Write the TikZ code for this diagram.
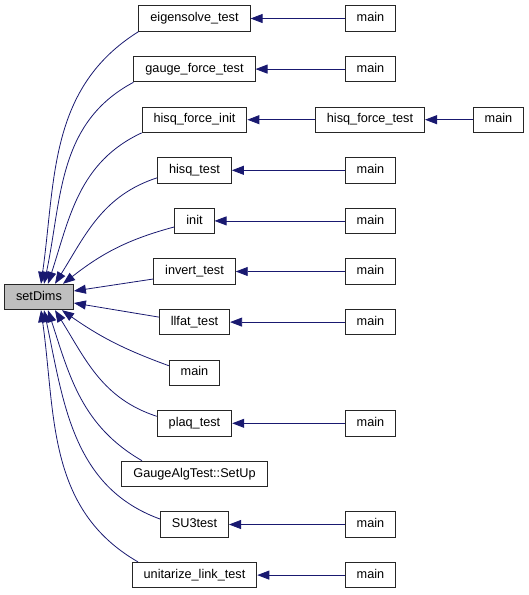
\documentclass[tikz,border=0pt]{standalone}
\usepackage{fontspec}
\setmainfont{Liberation Sans}
\usetikzlibrary{arrows.meta}
\definecolor{edgeblue}{HTML}{191970}
\definecolor{nodegray}{HTML}{BFBFBF}
\tikzset{
    fn/.style = {draw=black!85, line width=0.9pt, inner xsep=11.5pt, inner ysep=0pt,
                 minimum height=25.5pt, text height=9.5pt, text depth=3pt,
                 font=\fontsize{12.7}{15}\selectfont},
    call/.style = {draw=edgeblue, line width=0.8pt},
}
\begin{document}
\begin{tikzpicture}[x=1pt, y=1pt, >={Triangle[length=12pt,width=9pt]}]
        \useasboundingbox (0,0) rectangle (529,-595);
        % the function and its callers
        \node[fn, fill=nodegray] (setDims) at (39,-297) {setDims};
        \node[fn] (eigen)    at (194.5,-18.5)  {eigensolve\_test};
        \node[fn] (gauge)    at (194.5,-69.1)  {gauge\_force\_test};
        \node[fn] (hisqinit) at (194.5,-119.7) {hisq\_force\_init};
        \node[fn] (hisqtest) at (194.5,-170.3) {hisq\_test};
        \node[fn] (init)     at (194.5,-220.9) {init};
        \node[fn] (invert)   at (194.5,-271.5) {invert\_test};
        \node[fn] (llfat)    at (194.5,-322.1) {llfat\_test};
        \node[fn] (mainA)    at (194.5,-372.7) {main};
        \node[fn] (plaq)     at (194.5,-423.3) {plaq\_test};
        \node[fn] (setup)    at (194.5,-473.9) {GaugeAlgTest::SetUp};
        \node[fn] (suthree)  at (194.5,-524.5) {SU3test};
        \node[fn] (unitar)   at (194.5,-575.1) {unitarize\_link\_test};
        % callers of the callers
        \node[fn] (mainB)    at (370.5,-18.5)  {main};
        \node[fn] (mainC)    at (370.5,-69.1)  {main};
        \node[fn] (hisqforce) at (370,-119.7)  {hisq\_force\_test};
        \node[fn] (mainD)    at (498.5,-119.7) {main};
        \node[fn] (mainE)    at (370.5,-170.3) {main};
        \node[fn] (mainF)    at (370.5,-220.9) {main};
        \node[fn] (mainG)    at (370.5,-271.5) {main};
        \node[fn] (mainH)    at (370.5,-322.1) {main};
        \node[fn] (mainI)    at (370.5,-423.3) {main};
        \node[fn] (mainJ)    at (370.5,-524.5) {main};
        \node[fn] (mainK)    at (370.5,-575.1) {main};
        % edges into setDims, top half
        \draw[call, <-] ([xshift=2pt]setDims.north) to[out=82, in=212] (eigen.south west);
        \draw[call, <-] ([xshift=5pt]setDims.north) to[out=78, in=208] (gauge.south west);
        \draw[call, <-] ([xshift=9pt]setDims.north) to[out=72, in=205] (hisqinit.south west);
        \draw[call, <-] ([xshift=16pt]setDims.north) to[out=58, in=198] ([yshift=-7.5pt]hisqtest.west);
        \draw[call, <-] ([xshift=24pt]setDims.north) to[out=38, in=195] ([yshift=-6pt]init.west);
        \draw[call, <-] ([yshift=6pt]setDims.east) -- ([yshift=-7.5pt]invert.west);
        % edges into setDims, bottom half
        \draw[call, <-] ([yshift=-6pt]setDims.east) -- ([yshift=5pt]llfat.west);
        \draw[call, <-] ([xshift=23pt]setDims.south) to[out=-35, in=160] ([yshift=7pt]mainA.west);
        \draw[call, <-] ([xshift=16pt]setDims.south) to[out=-58, in=162] ([yshift=7pt]plaq.west);
        \draw[call, <-] ([xshift=9pt]setDims.south) to[out=-72, in=150] ([xshift=-52.5pt]setup.north);
        \draw[call, <-] ([xshift=5pt]setDims.south) to[out=-78, in=160] ([yshift=5.5pt]suthree.west);
        \draw[call, <-] ([xshift=2pt]setDims.south) to[out=-82, in=150] ([xshift=-56.5pt]unitar.north);
        % straight edges on the right
        \draw[call, <-] (eigen.east) -- (mainB.west);
        \draw[call, <-] (gauge.east) -- (mainC.west);
        \draw[call, <-] (hisqinit.east) -- (hisqforce.west);
        \draw[call, <-] (hisqforce.east) -- (mainD.west);
        \draw[call, <-] (hisqtest.east) -- (mainE.west);
        \draw[call, <-] (init.east) -- (mainF.west);
        \draw[call, <-] (invert.east) -- (mainG.west);
        \draw[call, <-] (llfat.east) -- (mainH.west);
        \draw[call, <-] (plaq.east) -- (mainI.west);
        \draw[call, <-] (suthree.east) -- (mainJ.west);
        \draw[call, <-] (unitar.east) -- (mainK.west);
    \end{tikzpicture}
\end{document}
